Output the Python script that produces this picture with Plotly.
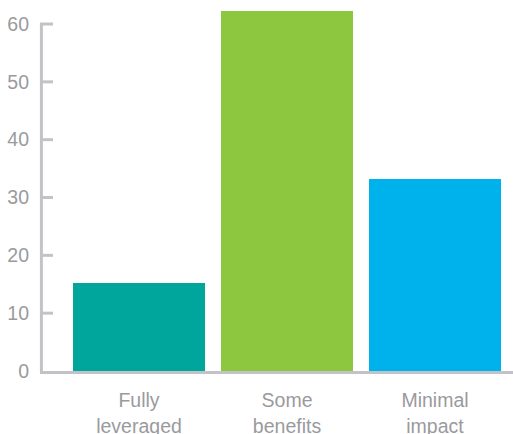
import plotly.graph_objects as go

categories = ["Fully<br>leveraged", "Some<br>benefits", "Minimal<br>impact"]
values = [15.2, 62.3, 33.2]
colors = ["#00A69C", "#8DC63F", "#00B2EC"]
y_ticks = [0, 10, 20, 30, 40, 50, 60]

axis_gray = "#C3C3C7"
text_gray = "#9A9A9E"

fig = go.Figure()
fig.add_trace(go.Bar(
    x=list(range(len(categories))), y=values,
    marker=dict(color=colors, line=dict(width=0)),
    width=132/148,
))

fig.update_layout(
    width=513, height=434,
    margin=dict(l=40, r=0, t=11, b=63),
    paper_bgcolor="white", plot_bgcolor="white",
    showlegend=False,
    font=dict(family="Liberation Sans, Arial, sans-serif", size=19.5, color=text_gray),
    xaxis=dict(
        range=[-0.669, 2.527], automargin=False,
        tickmode="array", tickvals=list(range(len(categories))), ticktext=categories,
        showline=True, linecolor=axis_gray, linewidth=3,
        showgrid=False, zeroline=False, ticks="", ticklabelstandoff=10,
        tickfont=dict(size=19.5, color=text_gray),
    ),
    yaxis=dict(
        range=[0, 62.25], automargin=False,
        tickmode="array", tickvals=y_ticks,
        showline=False, showgrid=False, zeroline=False,
        ticks="", ticklabelstandoff=10,
        tickfont=dict(size=19.5, color=text_gray),
    ),
    shapes=[
        dict(type="line", xref="paper", yref="y", x0=0.003, x1=0.003, y0=0, y1=y_ticks[-1],
             line=dict(color=axis_gray, width=3), layer="above"),
    ] + [
        dict(type="line", xref="paper", yref="y", x0=0, x1=13/473, y0=t, y1=t,
             line=dict(color=axis_gray, width=3), layer="above")
        for t in y_ticks[1:]
    ],
)

fig.write_html("out.html")
